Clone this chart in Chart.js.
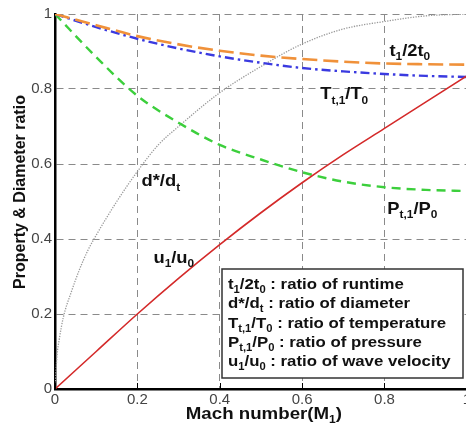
<!DOCTYPE html>
<html>
<head>
<meta charset="utf-8">
<script src="https://cdn.jsdelivr.net/npm/chart.js@4.4.0/dist/chart.umd.min.js"></script>
<style>
html, body { margin: 0; padding: 0; background: #fff; overflow: hidden; }
#wrap { width: 473px; height: 429px; }
</style>
</head>
<body>
<div id="wrap"><canvas id="chart" width="473" height="429"></canvas></div>
<script>
// Mach number samples for the smooth ratio curves
const mach = [0, 0.1, 0.2, 0.3, 0.4, 0.5, 0.6, 0.7, 0.8, 0.9, 1.0];
const runtimeRatio = [1, 0.970, 0.941, 0.919, 0.902, 0.889, 0.880, 0.873, 0.868, 0.866, 0.865];
const tempRatio = [1, 0.965, 0.934, 0.908, 0.887, 0.870, 0.856, 0.847, 0.840, 0.835, 0.832];
const pressRatio = [1, 0.885, 0.782, 0.710, 0.651, 0.612, 0.578, 0.553, 0.538, 0.531, 0.528];
const velRatio = [0, 0.10, 0.20, 0.295, 0.385, 0.47, 0.55, 0.625, 0.695, 0.765, 0.835];

// diameter ratio climbs very fast near M=0, so it gets more points there
const machD = [0, 0.005, 0.01, 0.02, 0.04, 0.06, 0.08, 0.1, 0.15, 0.2, 0.25, 0.3, 0.4, 0.5, 0.6, 0.7, 0.8, 0.9, 1.0];
const diamRatio = [0, 0.09, 0.13, 0.19, 0.26, 0.32, 0.37, 0.41, 0.50, 0.58, 0.65, 0.70, 0.79, 0.86, 0.92, 0.96, 0.98, 0.995, 1.0];

const tickValues = [0, 0.2, 0.4, 0.6, 0.8, 1];
const tickLabels = ['0', '0.2', '0.4', '0.6', '0.8', '1'];

// text pieces: [text, isSubscript]
const curveLabels = [
    { x: 0.812, y: 0.904, parts: [['t', 0], ['1', 1], ['/2t', 0], ['0', 1]] },
    { x: 0.644, y: 0.789, parts: [['T', 0], ['t,1', 1], ['/T', 0], ['0', 1]] },
    { x: 0.807, y: 0.483, parts: [['P', 0], ['t,1', 1], ['/P', 0], ['0', 1]] },
    { x: 0.210, y: 0.557, parts: [['d*/d', 0], ['t', 1]] },
    { x: 0.239, y: 0.352, parts: [['u', 0], ['1', 1], ['/u', 0], ['0', 1]] }
];

const legendLines = [
    [['t', 0], ['1', 1], ['/2t', 0], ['0', 1], [' : ratio of runtime', 0]],
    [['d*/d', 0], ['t', 1], [' : ratio of diameter', 0]],
    [['T', 0], ['t,1', 1], ['/T', 0], ['0', 1], [' : ratio of temperature', 0]],
    [['P', 0], ['t,1', 1], ['/P', 0], ['0', 1], [' : ratio of pressure', 0]],
    [['u', 0], ['1', 1], ['/u', 0], ['0', 1], [' : ratio of wave velocity', 0]]
];

const FONT = '"Liberation Sans", Arial, sans-serif';

function toPoints(xs, ys) {
    return xs.map((x, i) => ({ x: x, y: ys[i] }));
}

// draws bold text with subscripts, baseline at y, optional horizontal stretch
function drawRich(ctx, parts, x, y, size, stretch) {
    ctx.save();
    ctx.translate(x, y);
    ctx.scale(stretch || 1, 1);
    ctx.textBaseline = 'alphabetic';
    ctx.textAlign = 'left';
    let cx = 0;
    parts.forEach(([txt, sub]) => {
        const s = sub ? Math.round(size * 0.64) : size;
        ctx.font = 'bold ' + s + 'px ' + FONT;
        ctx.fillText(txt, cx, sub ? size * 0.26 : 0);
        cx += ctx.measureText(txt).width;
    });
    ctx.restore();
    return cx * (stretch || 1);
}

function richWidth(ctx, parts, size, stretch) {
    let w = 0;
    parts.forEach(([txt, sub]) => {
        const s = sub ? Math.round(size * 0.64) : size;
        ctx.font = 'bold ' + s + 'px ' + FONT;
        w += ctx.measureText(txt).width;
    });
    return w * (stretch || 1);
}

const annotate = {
    id: 'annotate',
    afterDatasetsDraw(chart) {
        const { ctx, chartArea, scales: { x, y } } = chart;
        ctx.save();
        ctx.fillStyle = '#111';

        // curve names
        curveLabels.forEach(l => {
            drawRich(ctx, l.parts, x.getPixelForValue(l.x), y.getPixelForValue(l.y) + 6, 17, 1.08);
        });

        // text box with the ratio descriptions
        const bx = 222, by = 269, bw = 241, bh = 109;
        ctx.fillStyle = '#fff';
        ctx.fillRect(bx, by, bw, bh);
        ctx.strokeStyle = '#333';
        ctx.lineWidth = 1.5;
        ctx.strokeRect(bx, by, bw, bh);

        // inward tick marks on the bottom axis
        ctx.strokeStyle = '#000';
        ctx.lineWidth = 1;
        tickValues.forEach(v => {
            const px = Math.round(x.getPixelForValue(v)) + 0.5;
            ctx.beginPath();
            ctx.moveTo(px, chartArea.bottom);
            ctx.lineTo(px, chartArea.bottom - 6);
            ctx.stroke();
        });

        ctx.fillStyle = '#111';
        legendLines.forEach((parts, i) => {
            drawRich(ctx, parts, 228, 289 + i * 19.3, 15, 1.12);
        });

        // axis titles
        const xt = [['Mach number(M', 0], ['1', 1], [')', 0]];
        const xw = richWidth(ctx, xt, 17, 1.1);
        drawRich(ctx, xt, (chartArea.left + chartArea.right) / 2 - xw / 2 + 3, 419, 17, 1.1);

        ctx.save();
        ctx.translate(25, 192);
        ctx.rotate(-Math.PI / 2);
        const yt = [['Property & Diameter ratio', 0]];
        const yw = richWidth(ctx, yt, 16, 1.0);
        drawRich(ctx, yt, -yw / 2, 0, 16, 1.0);
        ctx.restore();

        ctx.restore();
    }
};

const tickFont = { family: FONT, size: 15 };
const tickText = v => tickLabels[tickValues.indexOf(v)] ?? String(v);

new Chart(document.getElementById('chart'), {
    type: 'line',
    data: {
        datasets: [
            {
                label: 'u1/u0',
                data: toPoints(mach, velRatio),
                borderColor: '#d42a2a',
                borderWidth: 1.6
            },
            {
                label: 't1/2t0',
                data: toPoints(mach, runtimeRatio),
                borderColor: '#f0913a',
                borderWidth: 2.6,
                borderDash: [15, 6]
            },
            {
                label: 'Tt1/T0',
                data: toPoints(mach, tempRatio),
                borderColor: '#3a3ae0',
                borderWidth: 2.4,
                borderDash: [9, 4, 2.5, 4]
            },
            {
                label: 'Pt1/P0',
                data: toPoints(mach, pressRatio),
                borderColor: '#3ccf3c',
                borderWidth: 2.4,
                borderDash: [9, 6]
            },
            {
                label: 'd*/dt',
                data: toPoints(machD, diamRatio),
                borderColor: '#9a9a9a',
                borderWidth: 1.3,
                borderDash: [1.3, 1.3]
            }
        ]
    },
    options: {
        responsive: false,
        animation: false,
        layout: { padding: { top: 14, right: 0, left: 0, bottom: 0 } },
        elements: {
            point: { radius: 0 },
            line: { cubicInterpolationMode: 'monotone', fill: false }
        },
        plugins: {
            legend: { display: false },
            tooltip: { enabled: false }
        },
        scales: {
            x: {
                type: 'linear',
                min: 0,
                max: 1,
                afterFit: s => { s.height = 40; },
                afterBuildTicks: s => { s.ticks = tickValues.map(v => ({ value: v })); },
                ticks: { font: tickFont, color: '#444', padding: 2, maxRotation: 0, callback: tickText },
                grid: { color: '#8a8a8a', lineWidth: 1, drawTicks: false },
                border: { display: true, color: '#000', width: 2.5, dash: [7, 5] }
            },
            y: {
                min: 0,
                max: 1,
                afterFit: s => { s.width = 55; },
                afterBuildTicks: s => { s.ticks = tickValues.map(v => ({ value: v })); },
                ticks: { font: tickFont, color: '#444', padding: 3, callback: tickText },
                grid: { color: '#8a8a8a', lineWidth: 1, drawTicks: false },
                border: { display: true, color: '#000', width: 2.5, dash: [7, 5] }
            }
        }
    },
    plugins: [annotate]
});
</script>
</body>
</html>
